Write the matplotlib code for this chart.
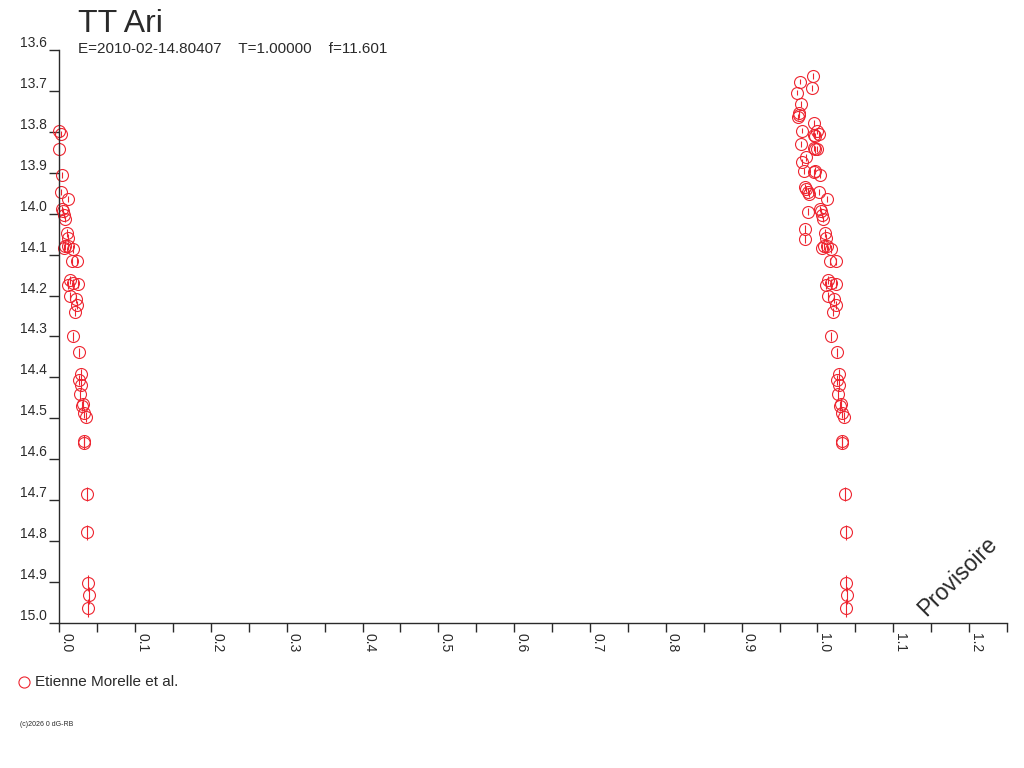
import numpy as np
import matplotlib
matplotlib.use('Agg')
import matplotlib.pyplot as plt

# phase dans [0,1) et magnitude
phase = [0.000, 0.002, 0.000, 0.004, 0.002, 0.012, 0.004, 0.005, 0.006, 0.007,
         0.010, 0.011, 0.008, 0.012, 0.018, 0.006, 0.017, 0.024, 0.014, 0.018,
         0.025, 0.011, 0.014, 0.022, 0.024, 0.021, 0.018, 0.026, 0.029, 0.026,
         0.028, 0.027, 0.031, 0.030, 0.033, 0.035, 0.032, 0.033, 0.036, 0.037,
         0.038, 0.039, 0.038,
         0.9944, 0.9768, 0.9934, 0.9733, 0.9777, 0.975, 0.974, 0.976, 0.9953, 0.9795,
         0.997, 0.9953, 0.9786, 0.996, 0.997, 0.9855, 0.980, 0.982, 0.997, 0.9953,
         0.984, 0.9855, 0.9873, 0.989, 0.9873, 0.983, 0.983]
mag = [13.798, 13.805, 13.842, 13.905, 13.947, 13.964, 13.988, 13.993, 14.003, 14.013,
       14.047, 14.059, 14.079, 14.079, 14.086, 14.084, 14.116, 14.116, 14.162, 14.169,
       14.172, 14.174, 14.201, 14.208, 14.223, 14.240, 14.299, 14.338, 14.392, 14.406,
       14.418, 14.440, 14.465, 14.470, 14.487, 14.497, 14.555, 14.560, 14.685, 14.778,
       14.902, 14.932, 14.963,
       13.664, 13.677, 13.693, 13.704, 13.732, 13.753, 13.763, 13.760, 13.779, 13.797,
       13.810, 13.808, 13.830, 13.839, 13.843, 13.862, 13.874, 13.896, 13.895, 13.899,
       13.935, 13.940, 13.946, 13.951, 13.995, 14.037, 14.062]
err = [0.008, 0.008, 0.008, 0.008, 0.008, 0.008, 0.008, 0.008, 0.008, 0.008,
       0.009, 0.009, 0.009, 0.009, 0.009, 0.009, 0.009, 0.009, 0.010, 0.010,
       0.010, 0.010, 0.010, 0.010, 0.010, 0.010, 0.011, 0.011, 0.012, 0.012,
       0.012, 0.012, 0.013, 0.013, 0.013, 0.013, 0.014, 0.014, 0.017, 0.018,
       0.020, 0.021, 0.022,
       0.007, 0.007, 0.007, 0.007, 0.007, 0.007, 0.007, 0.007, 0.007, 0.007,
       0.008, 0.008, 0.008, 0.008, 0.008, 0.008, 0.008, 0.008, 0.008, 0.008,
       0.008, 0.008, 0.008, 0.008, 0.008, 0.009, 0.009]

titre = 'TT Ari'
soustitre = 'E=2010-02-14.80407    T=1.00000    f=11.601'
observateur = 'Etienne Morelle et al.'
rouge = '#ee2530'
gris = '#2a2a2a'

plt.rcParams['font.family'] = ['Liberation Sans', 'DejaVu Sans']

ph = np.array(phase)
mg = np.array(mag)
er = np.array(err)
x = np.concatenate([ph, ph + 1])
y = np.concatenate([mg, mg])
e = np.concatenate([er, er])

fig = plt.figure(figsize=(10.24, 7.68), dpi=100)
ax = fig.add_axes([0.0579, 0.1888, 0.9255, 0.7461])
pts = ax.errorbar(x, y, yerr=e, fmt='o', mfc='none', mec=rouge, ecolor=rouge,
                  ms=8.6, mew=0.8, elinewidth=0.8, capsize=0)
for art in pts.get_children():
    art.set_clip_on(False)
ax.set_xlim(0, 1.25)
ax.set_ylim(15.0, 13.6)

for s in ['top', 'right']:
    ax.spines[s].set_visible(False)
for s in ['left', 'bottom']:
    ax.spines[s].set_color(gris)
    ax.spines[s].set_linewidth(1.0)

ax.set_yticks(np.arange(13.6, 15.01, 0.1))
ax.set_yticklabels(['%.1f' % v for v in np.arange(13.6, 15.01, 0.1)])
ax.set_xticks(np.arange(0, 1.21, 0.1))
ax.set_xticklabels(['%.1f' % v for v in np.arange(0, 1.21, 0.1)])
ax.set_xticks(np.arange(0.05, 1.26, 0.1), minor=True)
ax.tick_params(axis='y', length=7.2, width=1, color=gris, pad=1.5,
               labelsize=10, labelcolor=gris)
ax.tick_params(axis='x', which='both', length=6.5, width=1, color=gris)
ax.tick_params(axis='x', pad=0.5, labelsize=10, labelcolor=gris)
for lab in ax.get_yticklabels():
    lab.set_va('bottom')
for lab in ax.get_xticklabels():
    lab.set_rotation(-90)
    lab.set_ha('left')
    lab.set_va('top')

fig.text(78/1024, 1 - 32/768, titre, fontsize=23, color=gris, va='baseline')
fig.text(78/1024, 1 - 53/768, soustitre, fontsize=11, color=gris, va='baseline')
fig.text(958/1024, 1 - 576/768, 'Provisoire', fontsize=16.5, color=gris,
         rotation=45, ha='center', va='center')

fig.lines.append(plt.Line2D([24/1024], [1 - 682/768], marker='o', ms=8, mfc='none',
                            mec=rouge, mew=0.8, transform=fig.transFigure))
fig.text(35/1024, 1 - 682/768, observateur, fontsize=11, color=gris, va='center')
fig.text(20/1024, 1 - 725/768, '(c)2026 0 dG-RB', fontsize=5, color=gris, va='center')

fig.savefig('out.png', dpi=100)
